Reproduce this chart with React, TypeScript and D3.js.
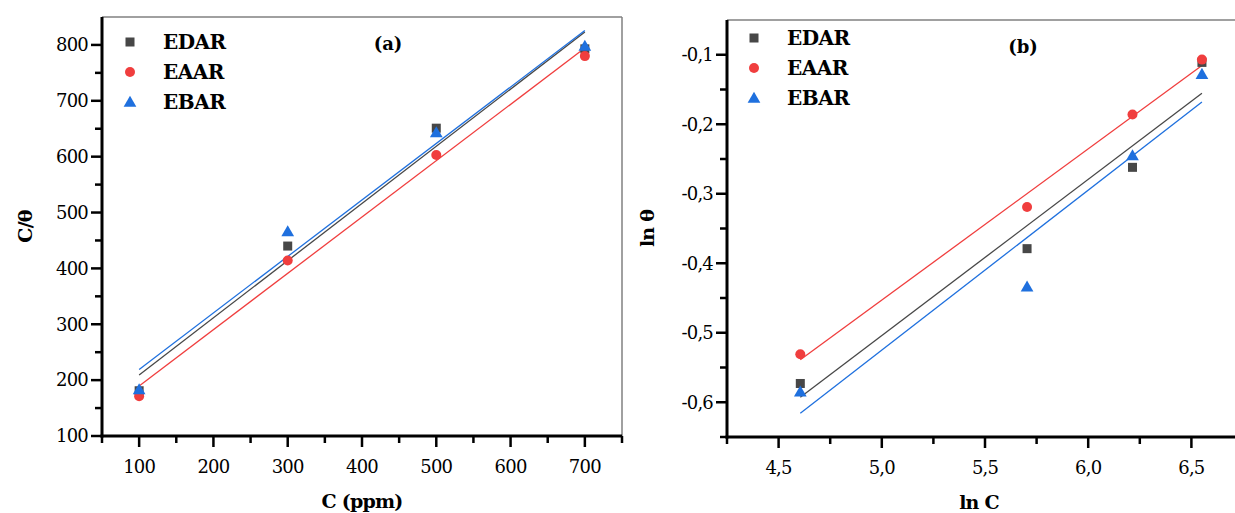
import * as d3 from 'd3';

// concentrations (ppm)
const concentrations = [100, 300, 500, 700];

const seriesNames = ['EDAR', 'EAAR', 'EBAR'];
const seriesColors = ['#474747', '#f03e3e', '#1f70de'];
const seriesShapes = ['square', 'circle', 'triangle'];

// C/theta values per series
const cOverTheta = [
  [181, 440, 651, 793],
  [171, 414, 603, 780],
  [183, 466, 643, 798],
];

// ln(theta) values per series
const lnTheta = [
  [-0.573, -0.379, -0.262, -0.111],
  [-0.531, -0.319, -0.186, -0.107],
  [-0.585, -0.434, -0.245, -0.128],
];

const leftXTicks = [100, 200, 300, 400, 500, 600, 700];
const leftYTicks = [100, 200, 300, 400, 500, 600, 700, 800];
const rightXTicks = [4.5, 5.0, 5.5, 6.0, 6.5];
const rightYTicks = [-0.6, -0.5, -0.4, -0.3, -0.2, -0.1];

const FONT = "'DejaVu Serif', serif";

function linFit(xs: number[], ys: number[]) {
  const mx = d3.mean(xs)!;
  const my = d3.mean(ys)!;
  let sxy = 0, sxx = 0;
  xs.forEach((x, i) => {
    sxy += (x - mx) * (ys[i] - my);
    sxx += (x - mx) * (x - mx);
  });
  const b = sxy / sxx;
  return (x: number) => my + b * (x - mx);
}

function Marker({ shape, x, y, color }: { shape: string; x: number; y: number; color: string }) {
  if (shape === 'square') return <rect x={x - 4.5} y={y - 4.5} width={9} height={9} fill={color} />;
  if (shape === 'circle') return <circle cx={x} cy={y} r={5} fill={color} />;
  const s = d3.symbol(d3.symbolTriangle, 70)();
  return <path d={s || ''} transform={`translate(${x},${y + 1})`} fill={color} />;
}

type PanelProps = {
  xDomain: [number, number];
  xRange: [number, number];
  yDomain: [number, number];
  yRange: [number, number];
  xTicks: number[];
  yTicks: number[];
  xMinorStep: number;
  yMinorStep: number;
  xs: number[];
  ys: number[][];
  fmt: (v: number) => string;
  xTitle: string;
  yTitle: string;
  yTitleX: number;
  tag: string;
  tagX: number;
  legendX: number;
  legendY: number;
  rightEdge: number;
};

function Panel(p: PanelProps) {
  const x = d3.scaleLinear().domain(p.xDomain).range(p.xRange);
  const y = d3.scaleLinear().domain(p.yDomain).range(p.yRange);
  const [x0] = p.xRange;
  const [y0, y1] = p.yRange;
  const xMinor = d3.range(p.xDomain[0], p.xDomain[1] + 1e-9, p.xMinorStep)
    .filter(v => !p.xTicks.some(t => Math.abs(t - v) < 1e-9));
  const yMinor = d3.range(p.yDomain[0], p.yDomain[1] + 1e-9, p.yMinorStep)
    .filter(v => !p.yTicks.some(t => Math.abs(t - v) < 1e-9) && y(v) > y1 + 2);
  const xMin = d3.min(p.xs)!;
  const xMax = d3.max(p.xs)!;

  return (
    <g style={{ fontFamily: FONT }}>
      {/* frame top / right */}
      <line x1={x0} x2={p.rightEdge} y1={y1} y2={y1} stroke="#808080" strokeWidth={1.5} />
      <line x1={p.rightEdge} x2={p.rightEdge} y1={y1} y2={y0} stroke="#808080" strokeWidth={1.5} />

      {/* fit lines */}
      {p.ys.map((ys, i) => {
        const f = linFit(p.xs, ys);
        return (
          <line key={'f' + i} x1={x(xMin)} y1={y(f(xMin))} x2={x(xMax)} y2={y(f(xMax))}
            stroke={seriesColors[i]} strokeWidth={1.3} />
        );
      })}

      {/* points */}
      {p.ys.map((ys, i) =>
        ys.map((v, j) => (
          <Marker key={`m${i}-${j}`} shape={seriesShapes[i]} x={x(p.xs[j])} y={y(v)} color={seriesColors[i]} />
        ))
      )}

      {/* axes */}
      <line x1={x0} x2={x0} y1={y1} y2={y0 + 1.5} stroke="#000" strokeWidth={3} />
      <line x1={x0 - 1.5} x2={Math.min(p.rightEdge, 1240)} y1={y0} y2={y0} stroke="#000" strokeWidth={3} />

      {p.yTicks.map(t => (
        <g key={'yt' + t}>
          <line x1={x0 - 11} x2={x0} y1={y(t)} y2={y(t)} stroke="#000" strokeWidth={2.5} />
          <text x={x0 - 14} y={y(t)} dy="0.35em" textAnchor="end" fontSize={18} letterSpacing={-0.8}>{p.fmt(t)}</text>
        </g>
      ))}
      {yMinor.map(t => (
        <line key={'ym' + t} x1={x0 - 7} x2={x0} y1={y(t)} y2={y(t)} stroke="#000" strokeWidth={2.5} />
      ))}
      {p.xTicks.map(t => (
        <g key={'xt' + t}>
          <line x1={x(t)} x2={x(t)} y1={y0} y2={y0 + 11} stroke="#000" strokeWidth={2.5} />
          <text x={x(t)} y={y0 + 37} textAnchor="middle" fontSize={18} letterSpacing={-0.8}>{p.fmt(t)}</text>
        </g>
      ))}
      {xMinor.map(t => (
        <line key={'xm' + t} x1={x(t)} x2={x(t)} y1={y0} y2={y0 + 7} stroke="#000" strokeWidth={2.5} />
      ))}

      {/* titles */}
      <text x={(x0 + p.rightEdge) / 2 + (p.rightEdge > 1235 ? -6 : 0)} y={y0 + 72} textAnchor="middle"
        fontSize={19} fontWeight="bold" letterSpacing={-0.8}>{p.xTitle}</text>
      <text transform={`translate(${p.yTitleX},${(y0 + y1) / 2}) rotate(-90)`} textAnchor="middle"
        fontSize={19} fontWeight="bold" letterSpacing={-0.8}>{p.yTitle}</text>
      <text x={p.tagX} y={y1 + 33} textAnchor="middle" fontSize={18} fontWeight="bold">{p.tag}</text>

      {/* legend */}
      {seriesNames.map((n, i) => (
        <g key={'lg' + n}>
          <Marker shape={seriesShapes[i]} x={p.legendX} y={p.legendY + i * 30} color={seriesColors[i]} />
          <text x={p.legendX + 33} y={p.legendY + i * 30} dy="0.35em" fontSize={20} fontWeight="bold" letterSpacing={-0.5}>{n}</text>
        </g>
      ))}
    </g>
  );
}

export default function App() {
  const lnC = concentrations.map(c => Math.log(c));
  return (
    <svg width={1235} height={513} style={{ display: 'block', position: 'absolute', left: 0, top: 0 }}>
      <rect width={1235} height={513} fill="#fff" />
      <Panel
        xDomain={[50, 750]} xRange={[102, 622]}
        yDomain={[100, 850]} yRange={[436, 17]}
        xTicks={leftXTicks} yTicks={leftYTicks}
        xMinorStep={50} yMinorStep={50}
        xs={concentrations} ys={cOverTheta}
        fmt={v => String(v)}
        xTitle="C (ppm)" yTitle="C/θ" yTitleX={32}
        tag="(a)" tagX={388}
        legendX={130} legendY={42}
        rightEdge={622}
      />
      <Panel
        xDomain={[4.25, 6.75]} xRange={[727, 1243]}
        yDomain={[-0.65, -0.05]} yRange={[437, 20]}
        xTicks={rightXTicks} yTicks={rightYTicks}
        xMinorStep={0.25} yMinorStep={0.05}
        xs={lnC} ys={lnTheta}
        fmt={v => d3.format('.1f')(v).replace('.', ',').replace('−', '-')}
        xTitle="ln C" yTitle="ln θ" yTitleX={654}
        tag="(b)" tagX={1023}
        legendX={754} legendY={38}
        rightEdge={1243}
      />
    </svg>
  );
}
